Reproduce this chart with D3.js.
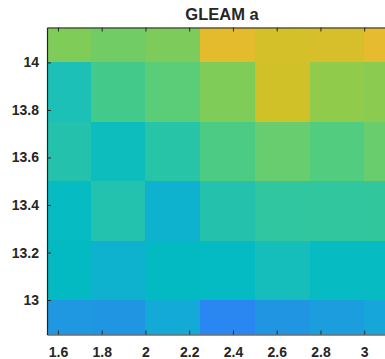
<!DOCTYPE html>
<html>
<head>
<meta charset="utf-8">
<script src="https://cdn.jsdelivr.net/npm/d3@7"></script>
<style>
  html, body { margin: 0; padding: 0; background: #fff; }
  svg { display: block; }
  text { font-family: "Liberation Sans", Arial, Helvetica, sans-serif; fill: #262626; }
</style>
</head>
<body>
<svg id="chart" width="385" height="359"></svg>
<script>
// Grid cell centres (longitude along x, latitude along y), 0.25 degree spacing
const lonCenters = [1.625, 1.875, 2.125, 2.375, 2.625, 2.875, 3.125];
const latCenters = [14.125, 13.875, 13.625, 13.375, 13.125, 12.875];
const cellSize = 0.25;

// GLEAM "a" values per latitude row (top to bottom), scaled 0..1 on the colour axis
const row14125 = [0.670, 0.645, 0.665, 0.815, 0.780, 0.785, 0.825];
const row13875 = [0.470, 0.570, 0.610, 0.670, 0.770, 0.700, 0.690];
const row13625 = [0.490, 0.440, 0.500, 0.585, 0.630, 0.595, 0.632];
const row13375 = [0.425, 0.485, 0.380, 0.490, 0.520, 0.522, 0.525];
const row13125 = [0.420, 0.380, 0.420, 0.418, 0.455, 0.425, 0.425];
const row12875 = [0.305, 0.300, 0.350, 0.250, 0.300, 0.320, 0.340];
const values = [row14125, row13875, row13625, row13375, row13125, row12875];

// Axis ticks
const xTicks = [1.6, 1.8, 2.0, 2.2, 2.4, 2.6, 2.8, 3.0];
const yTicks = [13.0, 13.2, 13.4, 13.6, 13.8, 14.0];
const xLimits = [1.55, 3.15];
const yLimits = [12.855, 14.147];

// Parula-like colour map
const parulaStops = [
  [0.00, "#3E26A8"], [0.12, "#4466F8"], [0.25, "#2A87F2"], [0.30, "#2095E2"],
  [0.35, "#14AAD8"], [0.38, "#0EB2CF"], [0.42, "#03BAC2"], [0.47, "#1CC0B6"],
  [0.52, "#30C69F"], [0.57, "#43CA8A"], [0.61, "#5BCD79"], [0.67, "#80CC58"],
  [0.70, "#90CB4C"], [0.77, "#D0C128"], [0.82, "#E5BA2E"], [0.90, "#FCC438"],
  [1.00, "#F9FB15"]
];
const color = d3.scaleLinear()
  .domain(parulaStops.map(d => d[0]))
  .range(parulaStops.map(d => d[1]))
  .interpolate(d3.interpolateRgb)
  .clamp(true);

const svg = d3.select("#chart");
const margin = { left: 47, top: 27.5, right: 397, bottom: 334.5 };

const x = d3.scaleLinear().domain(xLimits).range([margin.left, margin.right]);
const y = d3.scaleLinear().domain(yLimits).range([margin.bottom, margin.top]);

svg.append("defs").append("clipPath").attr("id", "plot-clip")
  .append("rect")
  .attr("x", margin.left).attr("y", margin.top)
  .attr("width", margin.right - margin.left)
  .attr("height", margin.bottom - margin.top);

// Cells
const cells = [];
values.forEach((row, i) => row.forEach((v, j) => cells.push({ lat: latCenters[i], lon: lonCenters[j], v })));

svg.append("g").attr("clip-path", "url(#plot-clip)")
  .selectAll("rect").data(cells).join("rect")
  .attr("x", d => x(d.lon - cellSize / 2))
  .attr("y", d => y(d.lat + cellSize / 2))
  .attr("width", d => x(d.lon + cellSize / 2) - x(d.lon - cellSize / 2))
  .attr("height", d => y(d.lat - cellSize / 2) - y(d.lat + cellSize / 2))
  .attr("fill", d => color(d.v))
  .attr("shape-rendering", "crispEdges");

const tickFmt = d => d3.format("")(+d.toFixed(1));
const axisColor = "#262626";

// Bottom axis (ticks pointing inward)
const gx = svg.append("g").attr("transform", `translate(0,${margin.bottom})`)
  .call(d3.axisBottom(x).tickValues(xTicks).tickSizeInner(-4).tickSizeOuter(0).tickPadding(13).tickFormat(tickFmt));
// Top axis, ticks only
const gxt = svg.append("g").attr("transform", `translate(0,${margin.top})`)
  .call(d3.axisTop(x).tickValues(xTicks).tickSizeInner(-4).tickSizeOuter(0).tickFormat(""));
// Left axis
const gy = svg.append("g").attr("transform", `translate(${margin.left},0)`)
  .call(d3.axisLeft(y).tickValues(yTicks).tickSizeInner(-4).tickSizeOuter(0).tickPadding(8).tickFormat(tickFmt));

[gx, gxt, gy].forEach(g => {
  g.select(".domain").attr("stroke", axisColor).attr("stroke-width", 1.2);
  g.selectAll(".tick line").attr("stroke", axisColor).attr("stroke-width", 1);
  g.selectAll(".tick text")
    .attr("fill", axisColor)
    .style("font-family", '"Liberation Sans", Arial, sans-serif')
    .style("font-size", "14px")
    .style("font-weight", "bold");
});

// Title
svg.append("text")
  .attr("x", (margin.left + margin.right) / 2)
  .attr("y", 19.5)
  .attr("text-anchor", "middle")
  .style("font-size", "16.5px")
  .style("font-weight", "bold")
  .text("GLEAM a");
</script>
</body>
</html>
